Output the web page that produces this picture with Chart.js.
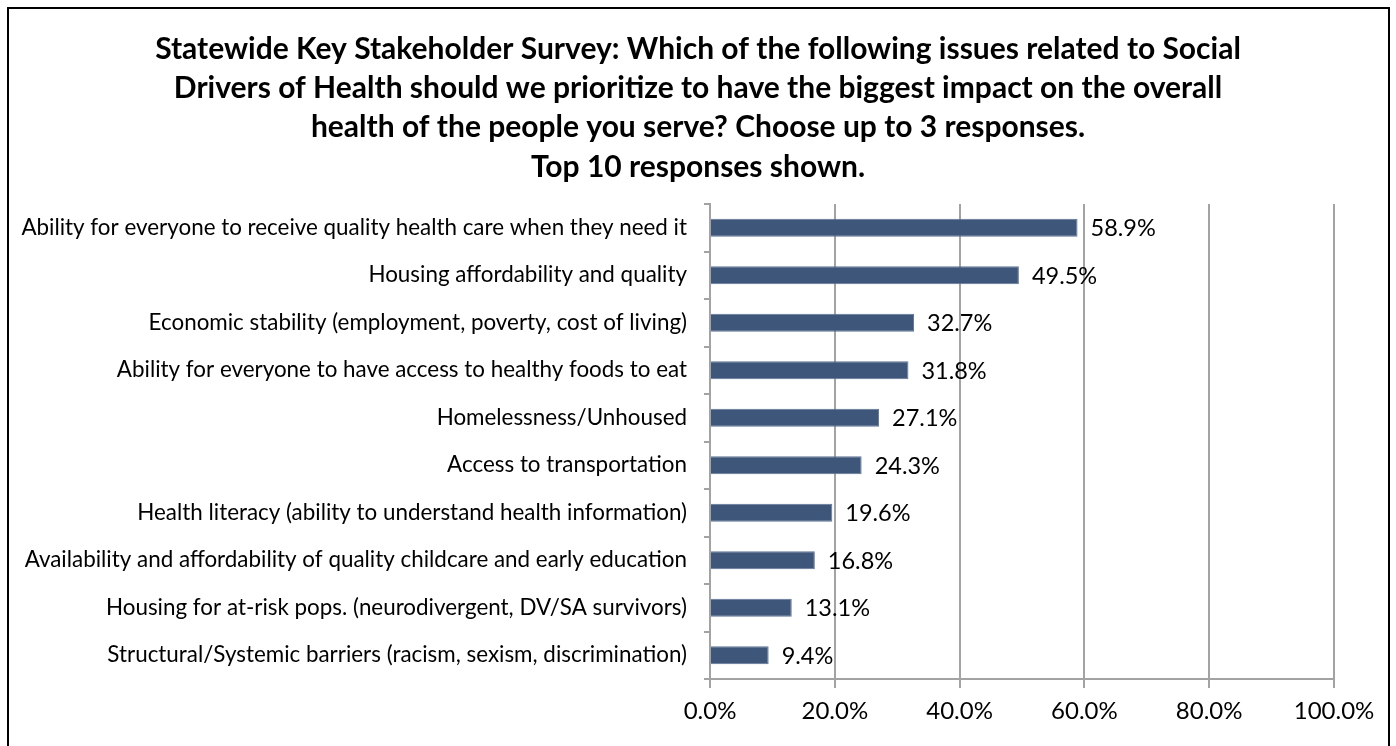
<!DOCTYPE html>
<html lang="en">
<head>
<meta charset="UTF-8">
<title>Statewide Key Stakeholder Survey – Social Drivers of Health</title>
<script src="https://cdn.jsdelivr.net/npm/chart.js"></script>
<style>
  html, body { margin: 0; padding: 0; background: #fff; }
  #wrap { width: 1396px; height: 746px; position: relative; }
</style>
</head>
<body>
<div id="wrap"><canvas id="issuesChart"></canvas></div>
<script>
const titleLines = [
  'Statewide Key Stakeholder Survey: Which of the following issues related to Social',
  'Drivers of Health should we prioritize to have the biggest impact on the overall',
  'health of the people you serve? Choose up to 3 responses.',
  'Top 10 responses shown.'
];
const issues = [
  'Ability for everyone to receive quality health care when they need it',
  'Housing affordability and quality',
  'Economic stability (employment, poverty, cost of living)',
  'Ability for everyone to have access to healthy foods to eat',
  'Homelessness/Unhoused',
  'Access to transportation',
  'Health literacy (ability to understand health information)',
  'Availability and affordability of quality childcare and early education',
  'Housing for at-risk pops. (neurodivergent, DV/SA survivors)',
  'Structural/Systemic barriers (racism, sexism, discrimination)'
];
const shares = [58.9, 49.5, 32.7, 31.8, 27.1, 24.3, 19.6, 16.8, 13.1, 9.4];
const xTicks = [0, 20, 40, 60, 80, 100];

const FONT = 'Lato, "Open Sans", sans-serif';
const GRID = '#a3a3a3';

// white page with the black frame and the centred bold heading
const frame = {
  id: 'frame',
  beforeDraw(chart) {
    const ctx = chart.ctx;
    ctx.save();
    ctx.fillStyle = '#fff';
    ctx.fillRect(0, 0, chart.width, chart.height);
    ctx.strokeStyle = '#000';
    ctx.lineWidth = 2;
    ctx.strokeRect(8, 8, 1381, 760);
    ctx.fillStyle = '#000';
    ctx.font = 'bold 30px ' + FONT;
    ctx.textAlign = 'center';
    ctx.textBaseline = 'middle';
    titleLines.forEach((line, i) => ctx.fillText(line, 698, 49 + i * 39.3));
    ctx.restore();
  }
};

// percentage printed to the right of each bar
const barLabels = {
  id: 'barLabels',
  afterDatasetsDraw(chart) {
    const ctx = chart.ctx;
    ctx.save();
    ctx.fillStyle = '#000';
    ctx.font = '23.5px ' + FONT;
    ctx.textAlign = 'left';
    ctx.textBaseline = 'middle';
    chart.getDatasetMeta(0).data.forEach((bar, i) => {
      ctx.fillText(shares[i].toFixed(1) + '%', bar.x + 13, bar.y + 1);
    });
    ctx.restore();
  }
};

new Chart(document.getElementById('issuesChart'), {
  type: 'bar',
  data: {
    labels: issues,
    datasets: [{
      data: shares,
      backgroundColor: '#3e5679',
      borderColor: '#5f7495',
      borderWidth: 1,
      barPercentage: 0.38,
      categoryPercentage: 1
    }]
  },
  options: {
    indexAxis: 'y',
    responsive: true,
    maintainAspectRatio: false,
    animation: false,
    layout: { padding: { top: 204, left: 10, right: 62, bottom: 0 } },
    plugins: {
      legend: { display: false },
      tooltip: { enabled: false }
    },
    scales: {
      x: {
        min: 0,
        max: 100,
        afterBuildTicks(scale) {
          scale.ticks = xTicks.map(v => ({ value: v }));
        },
        afterFit(scale) { scale.height = 67; },
        grid: { color: GRID, lineWidth: 2, tickLength: 9 },
        border: { color: GRID, width: 2 },
        ticks: {
          color: '#000',
          padding: 9,
          maxRotation: 0,
          font: { family: FONT, size: 24 },
          callback: v => v.toFixed(1) + '%'
        }
      },
      y: {
        afterFit(scale) { scale.width = 700; },
        grid: { drawOnChartArea: false, color: GRID, lineWidth: 2, tickLength: 6 },
        border: { color: GRID, width: 2 },
        ticks: {
          color: '#000',
          padding: 17,
          autoSkip: false,
          font: { family: FONT, size: 22.4 }
        }
      }
    }
  },
  plugins: [frame, barLabels]
});
</script>
</body>
</html>
